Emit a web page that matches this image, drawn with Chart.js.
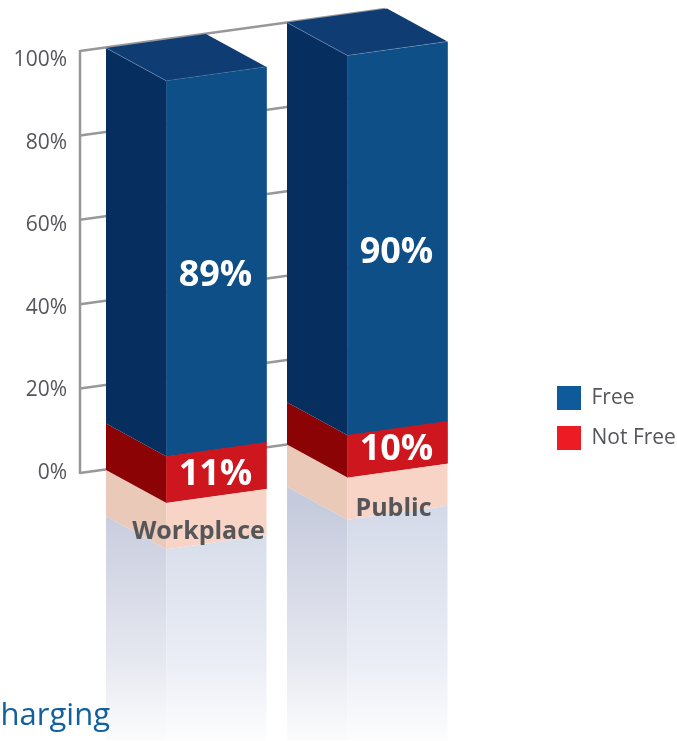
<!DOCTYPE html>
<html>
<head>
<meta charset="utf-8">
<style>
  html, body { margin: 0; padding: 0; background: #fff; overflow: hidden; }
  canvas { display: block; }
</style>
<script src="https://cdn.jsdelivr.net/npm/chart.js@4"></script>
</head>
<body>
<canvas id="chart" width="677" height="741"></canvas>
<script>
const categories = ['Workplace', 'Public'];
const notFreeValues = [11, 10];
const freeValues = [89, 90];
const yTicks = [0, 20, 40, 60, 80, 100];

const FONT = '"Open Sans", sans-serif';
const TEXT = '#55565A';

// the fake 3d: y scale is squeezed a bit so tick labels land right, faces get stretched back
const STRETCH = 422 / 413;
const WALL_X = 80, WALL_Y0 = 473, WALL_SLOPE = 0.1377, WALL_END = 385;
const FRONT_Y0 = 515, FRONT_SLOPE = 0.14;
const DEPTH_X = 60.5, DEPTH_Y = 33;
const REFLECT_END = 740;

// front, side, top
const faces = [
  { front: '#CE161E', side: '#8B0304', reflect: '#F7D4C5', reflectSide: '#EBC9B9' },
  { front: '#0F4F87', side: '#062E5F', top: '#0F3D73' }
];
const legendColors = ['#ED1C24', '#0F5A9A'];
const valueNudge = [[2, 0], [14, 14]];
const categoryNudge = [[-18, 36], [-4, 38.5]];

function frontY(chart, x, p) {
  return FRONT_Y0 + (p - chart.chartArea.bottom) * STRETCH - FRONT_SLOPE * (x - WALL_X);
}
function mirrorY(chart, x, p) {
  const base = frontY(chart, x, chart.chartArea.bottom);
  return 2 * base - frontY(chart, x, p);
}
function poly(ctx, pts, fill) {
  ctx.beginPath();
  pts.forEach((p, i) => i ? ctx.lineTo(p[0], p[1]) : ctx.moveTo(p[0], p[1]));
  ctx.closePath();
  ctx.fillStyle = fill;
  ctx.fill();
}
function fade(ctx, stops) {
  const g = ctx.createLinearGradient(0, 500, 0, 741);
  g.addColorStop(0, stops[0]);
  g.addColorStop(0.66, stops[1]);
  g.addColorStop(1, stops[2]);
  return g;
}

const fakeDepth = {
  id: 'fakeDepth',
  afterLayout(chart) {
    // legend sits in the chart area box, move it out to where the original has it
    const l = chart.legend;
    l.left = 557 - l.options.labels.padding;
    l.right = l.left + l.width;
    l.top = 386 - l.options.labels.padding;
    l.bottom = l.top + l.height;
  },
  beforeDatasetsDraw(chart) {
    const { ctx, scales: { y } } = chart;

    // back wall
    ctx.save();
    ctx.strokeStyle = '#98989B';
    ctx.lineWidth = 2.5;
    const wallY = (p, x) => WALL_Y0 + (p - chart.chartArea.bottom) * STRETCH - WALL_SLOPE * (x - WALL_X);
    y.ticks.forEach(t => {
      const p = y.getPixelForValue(t.value);
      ctx.beginPath();
      ctx.moveTo(WALL_X, wallY(p, WALL_X));
      ctx.lineTo(WALL_END, wallY(p, WALL_END));
      ctx.stroke();
    });
    ctx.beginPath();
    ctx.moveTo(WALL_X, wallY(y.getPixelForValue(100), WALL_X) - 1);
    ctx.lineTo(WALL_X, wallY(y.getPixelForValue(0), WALL_X) + 1);
    ctx.stroke();
    ctx.restore();

    const frontFade = fade(ctx, ['#D3D9E8', '#EAEDF5', '#FDFDFE']);
    const sideFade = fade(ctx, ['#C5CADC', '#E6E8F0', '#FCFCFD']);

    chart.data.datasets.forEach((ds, d) => {
      chart.getDatasetMeta(d).data.forEach(el => {
        const x0 = el.x - el.width / 2, x1 = el.x + el.width / 2, xb = x0 - DEPTH_X;
        const f = faces[d];

        // reflection under the bar, cut off flat near the page bottom
        ctx.save();
        ctx.beginPath();
        ctx.rect(0, 0, 677, REFLECT_END);
        ctx.clip();
        poly(ctx, [
          [xb, mirrorY(chart, x0, el.base) - DEPTH_Y], [x0, mirrorY(chart, x0, el.base)],
          [x0, mirrorY(chart, x0, el.y)], [xb, mirrorY(chart, x0, el.y) - DEPTH_Y]
        ], f.reflectSide || sideFade);
        poly(ctx, [
          [x0, mirrorY(chart, x0, el.base)], [x1, mirrorY(chart, x1, el.base)],
          [x1, mirrorY(chart, x1, el.y)], [x0, mirrorY(chart, x0, el.y)]
        ], f.reflect || frontFade);
        ctx.restore();

        // side face
        poly(ctx, [
          [x0, frontY(chart, x0, el.y)], [x0, frontY(chart, x0, el.base)],
          [xb, frontY(chart, x0, el.base) - DEPTH_Y], [xb, frontY(chart, x0, el.y) - DEPTH_Y]
        ], f.side);

        // top face, with the faint light edge it has at the front
        if (f.top) {
          poly(ctx, [
            [x0, frontY(chart, x0, el.y)], [x1, frontY(chart, x1, el.y)],
            [x1 - DEPTH_X, frontY(chart, x1, el.y) - DEPTH_Y], [xb, frontY(chart, x0, el.y) - DEPTH_Y]
          ], f.top);
          ctx.save();
          ctx.strokeStyle = 'rgba(130,165,205,0.6)';
          ctx.lineWidth = 0.75;
          ctx.beginPath();
          ctx.moveTo(xb, frontY(chart, x0, el.y) - DEPTH_Y);
          ctx.lineTo(x0, frontY(chart, x0, el.y));
          ctx.lineTo(x1, frontY(chart, x1, el.y));
          ctx.stroke();
          ctx.restore();
        }
      });
    });

    // library bars get drawn on the slanted front plane
    ctx.save();
    ctx.transform(1, -FRONT_SLOPE, 0, STRETCH,
      0, FRONT_Y0 - chart.chartArea.bottom * STRETCH + FRONT_SLOPE * WALL_X);
  },
  afterDatasetsDraw(chart) {
    const { ctx } = chart;
    ctx.restore();

    ctx.textAlign = 'center';
    ctx.textBaseline = 'middle';

    chart.data.datasets.forEach((ds, d) => {
      chart.getDatasetMeta(d).data.forEach((el, i) => {
        const mid = (el.y + el.base) / 2;
        ctx.font = 'bold 36px ' + FONT;
        ctx.fillStyle = '#fff';
        ctx.fillText(ds.data[i] + '%', el.x - 1, frontY(chart, el.x, mid) + valueNudge[d][i]);
      });
    });

    const bottomBars = chart.getDatasetMeta(0).data;
    ctx.font = 'bold 25px ' + FONT;
    ctx.fillStyle = TEXT;
    categories.forEach((c, i) => {
      const el = bottomBars[i];
      ctx.fillText(c, el.x + categoryNudge[i][0], frontY(chart, el.x, el.base) + categoryNudge[i][1]);
    });
  },
  afterDraw(chart) {
    // title runs off the left edge in the original
    const { ctx } = chart;
    ctx.save();
    ctx.font = '31px ' + FONT;
    ctx.fillStyle = '#12609E';
    ctx.textAlign = 'right';
    ctx.textBaseline = 'alphabetic';
    ctx.fillText('Charging', 110, 725);
    ctx.restore();
  }
};

new Chart(document.getElementById('chart'), {
  type: 'bar',
  plugins: [fakeDepth],
  data: {
    labels: categories,
    datasets: [
      { label: 'Not Free', data: notFreeValues, backgroundColor: faces[0].front },
      { label: 'Free', data: freeValues, backgroundColor: faces[1].front }
    ]
  },
  options: {
    responsive: false,
    animation: false,
    events: [],
    layout: { padding: { top: 60, bottom: 268, left: 0, right: 189 } },
    datasets: { bar: { barThickness: 100, borderWidth: 0 } },
    scales: {
      x: { stacked: true, display: false },
      y: {
        stacked: true,
        min: 0,
        max: 100,
        afterBuildTicks(scale) { scale.ticks = yTicks.map(v => ({ value: v })); },
        afterFit(scale) {
          scale.width = 126;
          // no extra room for half labels, chart area must stay exact
          scale.paddingTop = 0;
          scale.paddingBottom = 0;
        },
        grid: { display: false, drawTicks: false },
        border: { display: false },
        ticks: {
          padding: 59,
          color: TEXT,
          font: { family: FONT, size: 21 },
          callback: v => v + '%'
        }
      }
    },
    plugins: {
      tooltip: { enabled: false },
      legend: {
        position: 'chartArea',
        align: 'start',
        reverse: true,
        labels: {
          boxWidth: 24,
          boxHeight: 24,
          padding: 16,
          color: TEXT,
          font: { family: FONT, size: 21 },
          generateLabels(chart) {
            return Chart.defaults.plugins.legend.labels.generateLabels(chart).map(item => {
              item.fillStyle = legendColors[item.datasetIndex];
              item.lineWidth = 0;
              return item;
            });
          }
        }
      }
    }
  }
});
</script>
</body>
</html>
